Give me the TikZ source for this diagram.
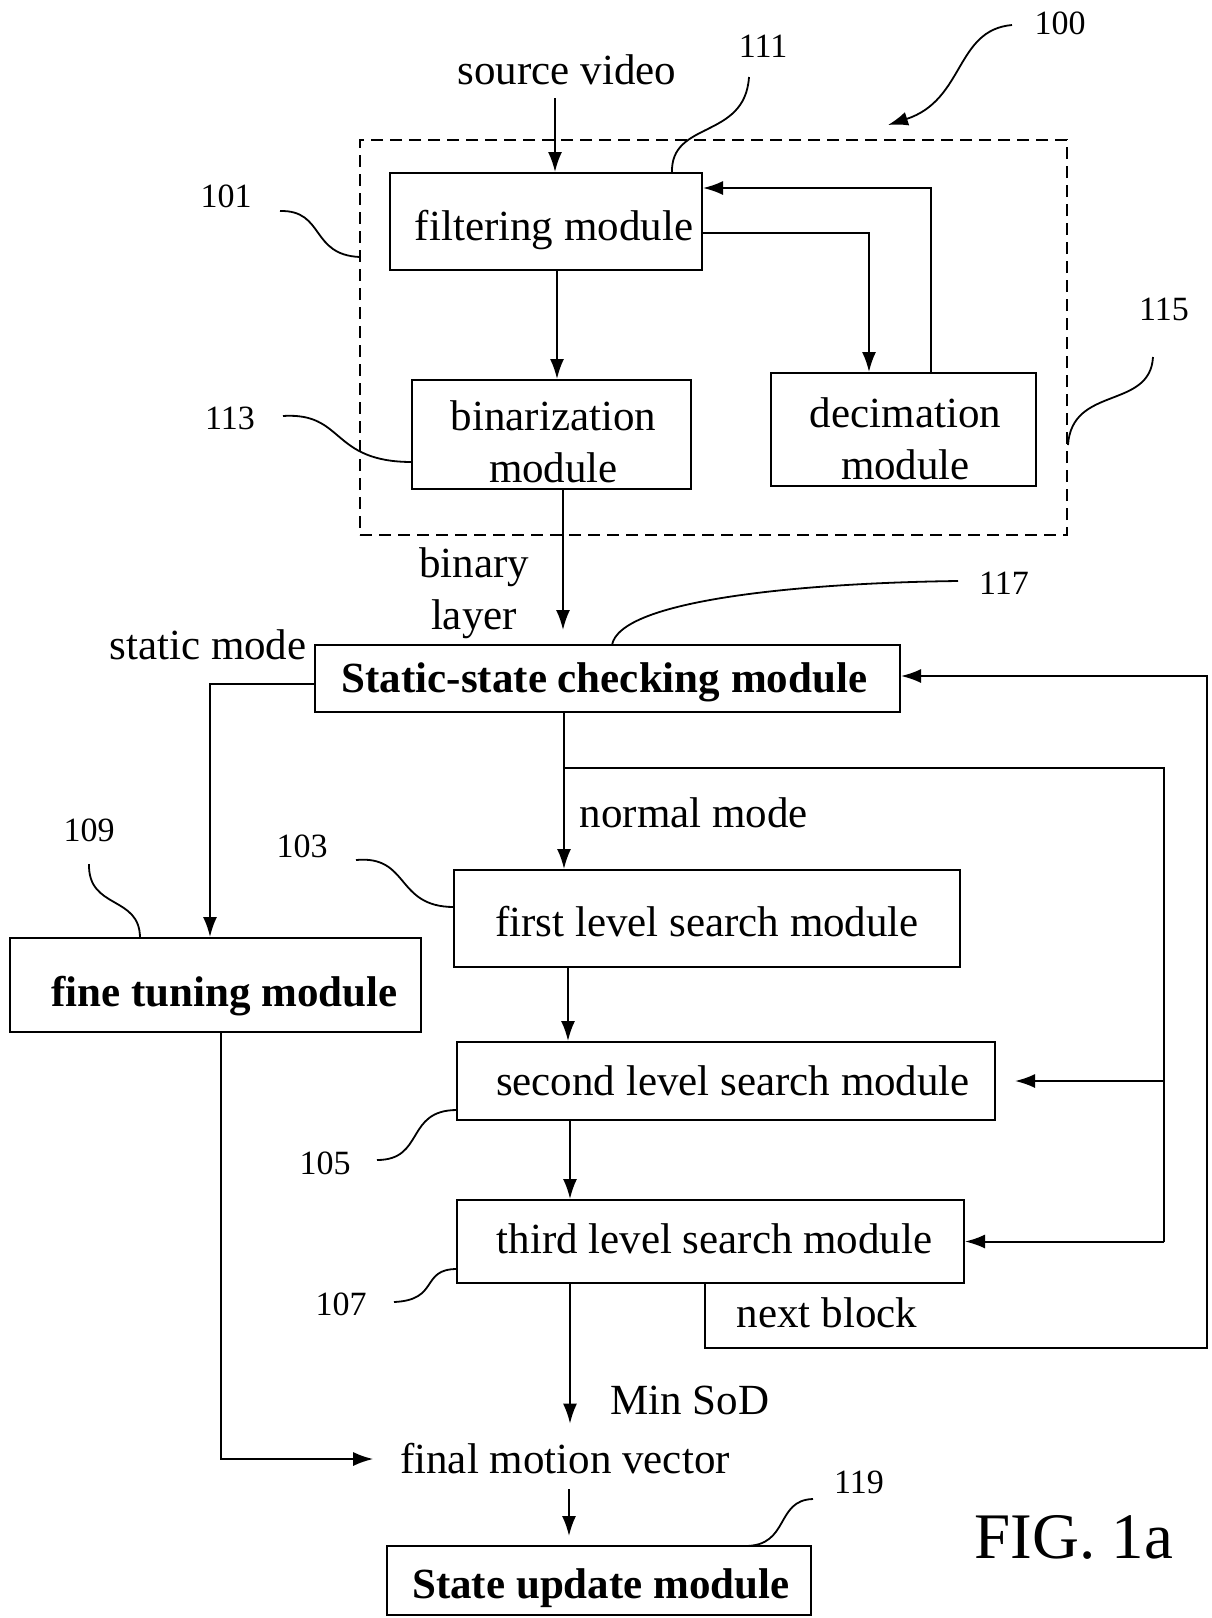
\documentclass[tikz,border=0pt]{standalone}
\usepackage{fontspec}
\setmainfont{Liberation Serif}
\usetikzlibrary{arrows.meta,calc}
\newcommand\mainsz{\fontsize{21.5}{26}\selectfont}
\newcommand\numsz{\fontsize{17}{20}\selectfont}
\newcommand\figsz{\fontsize{32.5}{38}\selectfont}
% move a line of text by (#1 right, #2 down) without changing its box
\newcommand\nudge[3]{\raisebox{-#2}[\height][\depth]{\hspace*{#1}#3\hspace*{-#1}}}
\begin{document}
\begin{tikzpicture}[x=0.5pt,y=-0.5pt,line width=1pt,
  box/.style={draw, rectangle, inner sep=0pt, font=\mainsz, align=center},
  bbox/.style={box, font=\mainsz\bfseries},
  lbl/.style={font=\mainsz, inner sep=1pt},
  num/.style={font=\numsz, inner sep=1pt},
  arr/.style={-{Latex[length=10pt,width=7pt]}},
  lead/.style={line width=0.9pt},
  group/.style={draw, dash pattern=on 6pt off 3.5pt, line width=0.9pt, inner sep=0pt}]
\useasboundingbox (0,0) rectangle (1211,1618);

% dashed preprocessing group
\node[group, minimum width=353.5pt, minimum height=197.5pt] (grp) at (713.5,337.5) {};

% modules
\node[box, minimum width=156pt, minimum height=48.5pt] (filt) at (546,221.5) {\nudge{4pt}{4pt}{filtering module}};
\node[box, minimum width=139.5pt, minimum height=54.5pt] (bin) at (551.5,434.5) {\nudge{1pt}{3.5pt}{binarization}\\\nudge{1pt}{3.5pt}{module}};
\node[box, minimum width=132.5pt, minimum height=56.5pt] (dec) at (903.5,429.5) {\nudge{1pt}{4.4pt}{decimation}\\\nudge{1pt}{4.4pt}{module}};
\node[bbox, minimum width=292.5pt, minimum height=33.5pt] (stat) at (607.5,678.5) {\nudge{-1.5pt}{2pt}{Static-state checking module}};
\node[bbox, minimum width=205.5pt, minimum height=47pt] (fine) at (215.5,985) {\nudge{4.5pt}{5.5pt}{fine tuning module}};
\node[box, minimum width=253pt, minimum height=48.5pt] (first) at (707,918.5) {\nudge{0pt}{1.5pt}{first level search module}};
\node[box, minimum width=269pt, minimum height=39pt] (second) at (726,1081) {\nudge{3.5pt}{0pt}{second level search module}};
\node[box, minimum width=253.5pt, minimum height=41.5pt] (third) at (710.5,1241.5) {\nudge{2pt}{-1.5pt}{third level search module}};
\node[bbox, minimum width=212pt, minimum height=34.5pt] (state) at (599,1580.5) {\nudge{1pt}{4pt}{State update module}};

% free labels
\node[lbl] (src) at (567,70) {source video};
\node[lbl, align=center] (binlbl) at (474,593) {binary\\layer};
\node[lbl] (stmode) at (208,645) {static mode};
\node[lbl] (nmode) at (694,813) {normal mode};
\node[lbl] (nblk) at (827,1313) {next block};
\node[lbl] (minsod) at (690,1400) {Min SoD};
\node[lbl, inner sep=2pt] (fmv) at (565,1459) {final motion vector};
\node[font=\figsz, inner sep=1pt] (fig) at (1074,1537) {FIG. 1a};

% reference numerals
\node[num] (n100) at (1060,23) {100};
\node[num] (n111) at (763,46) {111};
\node[num] (n101) at (226,196) {101};
\node[num] (n113) at (230,418) {113};
\node[num] (n115) at (1164,309) {115};
\node[num] (n117) at (1004,583) {117};
\node[num] (n109) at (89,830) {109};
\node[num] (n103) at (302,846) {103};
\node[num] (n105) at (325,1163) {105};
\node[num] (n107) at (341,1304) {107};
\node[num] (n119) at (859,1482) {119};

% helper columns / corners
\coordinate (xsv) at (555,0);
\coordinate (xfb) at (557,0);
\coordinate (xdec) at (869,0);
\coordinate (xret) at (931,0);
\coordinate (xbl) at (563,0);
\coordinate (xst) at (210,0);
\coordinate (xnm) at (564,0);
\coordinate (x12) at (568,0);
\coordinate (x23) at (570,0);
\coordinate (xnb) at (705,0);
\coordinate (xft) at (221,0);
\coordinate (xfs) at (569,0);
\coordinate (br) at (564,768);
\coordinate (brr) at (1164,768);
\coordinate (lp) at (1207,1348);

% connectors
\draw[arr, shorten <=5pt] (src.south -| xsv) -- (filt.north -| xsv);
\draw[arr] (filt.south -| xfb) -- (bin.north -| xfb);
\draw[arr] ([yshift=-5.75pt]filt.east) -| (dec.north -| xdec);
\draw[arr] (dec.north -| xret) |- ([yshift=16.75pt]filt.east);
\draw[arr, shorten >=7pt] (bin.south -| xbl) -- (stat.north -| xbl);
\draw[arr] ([yshift=-2.75pt]stat.west) -| (fine.north -| xst);
\draw[arr] (stat.south -| xnm) -- (first.north -| xnm);
\draw (br) -- (brr) -- (brr |- third.east);
\draw[arr, shorten >=9.5pt] (brr |- second.east) -- (second.east);
\draw[arr] (brr |- third.east) -- (third.east);
\draw[arr] (first.south -| x12) -- (second.north -| x12);
\draw[arr] (second.south -| x23) -- (third.north -| x23);
\draw[arr] (third.south -| xnb) |- (lp) |- ([yshift=1.25pt]stat.east);
\draw[arr, shorten >=7.5pt] (third.south -| x23) -- (fmv.north -| x23);
\draw[arr, shorten >=11pt] (fine.south -| xft) |- (fmv.west);
\draw[arr, shorten <=5pt, shorten >=4.5pt] (fmv.south -| xfs) -- (state.north -| xfs);

% leader lines
\draw[lead, -{Latex[length=10pt,width=7pt]}] (1012,25) .. controls (955,30) and (965,100) .. (888,125);
\draw[lead] (672,173) .. controls (670,120) and (745,140) .. (749,77);
\draw[lead] (280,211) .. controls (325,210) and (310,255) .. (360,257);
\draw[lead] (283,416) .. controls (345,412) and (330,462) .. (412,462);
\draw[lead] (1153,357) .. controls (1150,410) and (1072,385) .. (1068,445);
\draw[lead] (612,645) .. controls (620,600) and (800,583) .. (958,581);
\draw[lead] (89,864) .. controls (88,910) and (140,895) .. (140,938);
\draw[lead] (356,860) .. controls (410,855) and (395,907) .. (454,907);
\draw[lead] (377,1160) .. controls (425,1160) and (405,1110) .. (457,1110);
\draw[lead] (394,1302) .. controls (440,1300) and (420,1269) .. (457,1269);
\draw[lead] (813,1499) .. controls (775,1500) and (790,1546) .. (745,1546);
\end{tikzpicture}
\end{document}
